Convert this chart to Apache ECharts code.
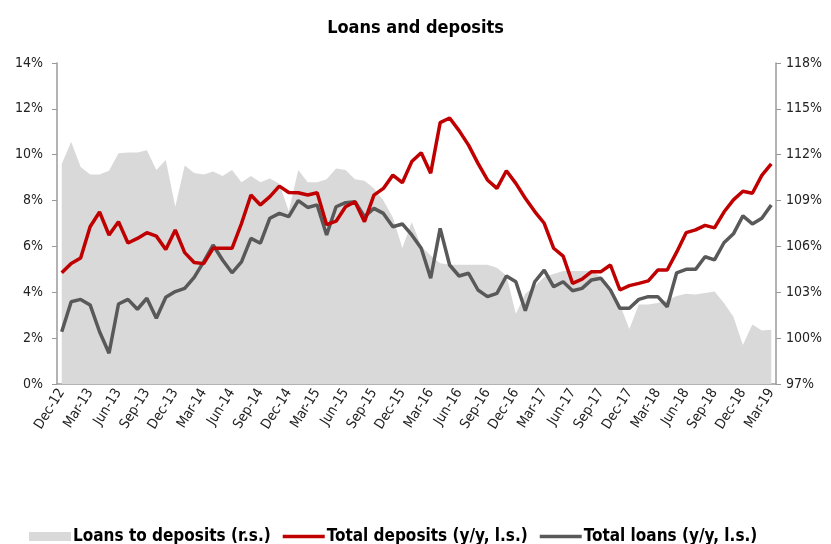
<!DOCTYPE html>
<html>
<head>
<meta charset="utf-8">
<script src="https://cdn.jsdelivr.net/npm/echarts@6/dist/echarts.min.js"></script>
<style>
  html, body { margin: 0; padding: 0; background: #fff; }
  #chart { width: 831px; height: 544px; }
</style>
</head>
<body>
<div id="chart"></div>
<script>
// months Dec-12 .. Mar-19
var months = [
  "Dec-12","Jan-13","Feb-13","Mar-13","Apr-13","May-13","Jun-13","Jul-13","Aug-13","Sep-13","Oct-13","Nov-13",
  "Dec-13","Jan-14","Feb-14","Mar-14","Apr-14","May-14","Jun-14","Jul-14","Aug-14","Sep-14","Oct-14","Nov-14",
  "Dec-14","Jan-15","Feb-15","Mar-15","Apr-15","May-15","Jun-15","Jul-15","Aug-15","Sep-15","Oct-15","Nov-15",
  "Dec-15","Jan-16","Feb-16","Mar-16","Apr-16","May-16","Jun-16","Jul-16","Aug-16","Sep-16","Oct-16","Nov-16",
  "Dec-16","Jan-17","Feb-17","Mar-17","Apr-17","May-17","Jun-17","Jul-17","Aug-17","Sep-17","Oct-17","Nov-17",
  "Dec-17","Jan-18","Feb-18","Mar-18","Apr-18","May-18","Jun-18","Jul-18","Aug-18","Sep-18","Oct-18","Nov-18",
  "Dec-18","Jan-19","Feb-19","Mar-19"
];

// loans to deposits, % (right scale)
var loansToDeposits = [
  111.4,112.85,111.2,110.7,110.7,110.95,112.1,112.15,112.15,112.3,111.0,111.65,
  108.6,111.3,110.8,110.7,110.9,110.6,111.0,110.2,110.6,110.2,110.45,110.1,
  108.3,111.0,110.2,110.2,110.4,111.1,111.0,110.4,110.3,109.8,109.0,107.9,
  105.9,107.6,106.0,105.4,104.9,104.8,104.8,104.8,104.8,104.8,104.6,104.1,
  101.6,102.9,103.4,104.0,104.2,104.4,104.4,104.4,104.4,104.0,103.2,102.2,
  100.6,102.2,102.2,102.3,102.5,102.75,102.9,102.85,102.95,103.05,102.3,101.4,
  99.55,100.9,100.5,100.55
];

// total deposits y/y, % (left scale)
var totalDeposits = [
  4.85,5.26,5.5,6.86,7.5,6.5,7.08,6.15,6.35,6.6,6.45,5.87,
  6.72,5.73,5.3,5.25,5.92,5.92,5.92,7.0,8.24,7.81,8.17,8.63,
  8.35,8.34,8.24,8.34,6.95,7.1,7.73,7.95,7.08,8.24,8.53,9.11,
  8.78,9.7,10.09,9.19,11.4,11.6,11.05,10.42,9.62,8.9,8.53,9.3,
  8.75,8.1,7.52,7.01,5.92,5.58,4.39,4.57,4.9,4.9,5.19,4.1,
  4.29,4.39,4.5,4.97,4.97,5.75,6.6,6.72,6.92,6.81,7.5,8.03,
  8.41,8.32,9.1,9.6
];

// total loans y/y, % (left scale)
var totalLoans = [
  2.28,3.59,3.69,3.45,2.28,1.34,3.49,3.69,3.26,3.74,2.87,3.78,
  4.03,4.17,4.65,5.33,6.06,5.41,4.85,5.33,6.35,6.14,7.23,7.44,
  7.3,8.0,7.7,7.81,6.5,7.73,7.91,7.95,7.3,7.66,7.44,6.86,
  6.98,6.5,5.92,4.61,6.79,5.19,4.71,4.83,4.1,3.81,3.95,4.71,
  4.46,3.2,4.46,4.97,4.24,4.46,4.07,4.17,4.54,4.61,4.1,3.3,
  3.3,3.69,3.81,3.81,3.37,4.85,5.0,5.0,5.55,5.41,6.16,6.55,
  7.33,6.98,7.23,7.81
];

var FONT = "'Liberation Sans Narrow', 'DejaVu Sans Condensed', 'Liberation Sans', sans-serif";
var AXIS_GREY = "#9a9a9a";
// legend line sample: a thin bar inside the 42x9 icon box
var LINE_ICON = "path://M0,0 L42,0 L42,3.5 L0,3.5 Z";

var chart = echarts.init(document.getElementById("chart"));
chart.setOption({
  animation: false,
  title: {
    text: "Loans and deposits",
    left: "center",
    top: 14,
    textStyle: { fontFamily: FONT, fontSize: 18, fontWeight: "bold", color: "#000" }
  },
  legend: {
    left: 24,
    top: 523,
    itemWidth: 42,
    itemHeight: 9,
    itemGap: 12,
    textStyle: { fontFamily: FONT, fontSize: 17, fontWeight: "bold", color: "#000", padding: [0, 0, 0, -3] },
    data: [
      { name: "Loans to deposits (r.s.)", icon: "rect", itemStyle: { color: "#d9d9d9" } },
      { name: "Total deposits (y/y, l.s.)", icon: LINE_ICON, itemStyle: { color: "#c00000" } },
      { name: "Total loans (y/y, l.s.)", icon: LINE_ICON, itemStyle: { color: "#595959" } }
    ]
  },
  grid: { left: 57, right: 55, top: 63, bottom: 160 },
  xAxis: {
    type: "category",
    data: months,
    boundaryGap: true,
    axisLine: { lineStyle: { color: AXIS_GREY, width: 1.5 } },
    axisTick: { interval: 0, length: 4, lineStyle: { color: AXIS_GREY } },
    axisLabel: {
      interval: 2,
      rotate: 58,
      margin: 6,
      fontFamily: FONT,
      fontSize: 14,
      color: "#222"
    }
  },
  yAxis: [
    {
      type: "value",
      min: 0,
      max: 14,
      interval: 2,
      splitLine: { show: false },
      axisLine: { show: true, lineStyle: { color: AXIS_GREY, width: 1.5 } },
      axisTick: { show: true, length: 5, lineStyle: { color: AXIS_GREY } },
      axisLabel: { formatter: "{value}%", fontFamily: FONT, fontSize: 14, color: "#222", margin: 14 }
    },
    {
      type: "value",
      min: 97,
      max: 118,
      interval: 3,
      splitLine: { show: false },
      axisLine: { show: true, lineStyle: { color: AXIS_GREY, width: 1.5 } },
      axisTick: { show: true, length: 5, lineStyle: { color: AXIS_GREY } },
      axisLabel: { formatter: "{value}%", fontFamily: FONT, fontSize: 14, color: "#222", margin: 10 }
    }
  ],
  series: [
    {
      name: "Loans to deposits (r.s.)",
      type: "line",
      yAxisIndex: 1,
      data: loansToDeposits,
      symbol: "none",
      lineStyle: { width: 0 },
      itemStyle: { color: "#d9d9d9" },
      areaStyle: { color: "#d9d9d9", opacity: 1, origin: "start" },
      z: 1
    },
    {
      name: "Total deposits (y/y, l.s.)",
      type: "line",
      yAxisIndex: 0,
      data: totalDeposits,
      symbol: "none",
      itemStyle: { color: "#c00000" },
      lineStyle: { color: "#c00000", width: 3.5 },
      z: 3
    },
    {
      name: "Total loans (y/y, l.s.)",
      type: "line",
      yAxisIndex: 0,
      data: totalLoans,
      symbol: "none",
      itemStyle: { color: "#595959" },
      lineStyle: { color: "#595959", width: 3.5 },
      z: 2
    }
  ]
});
</script>
</body>
</html>
